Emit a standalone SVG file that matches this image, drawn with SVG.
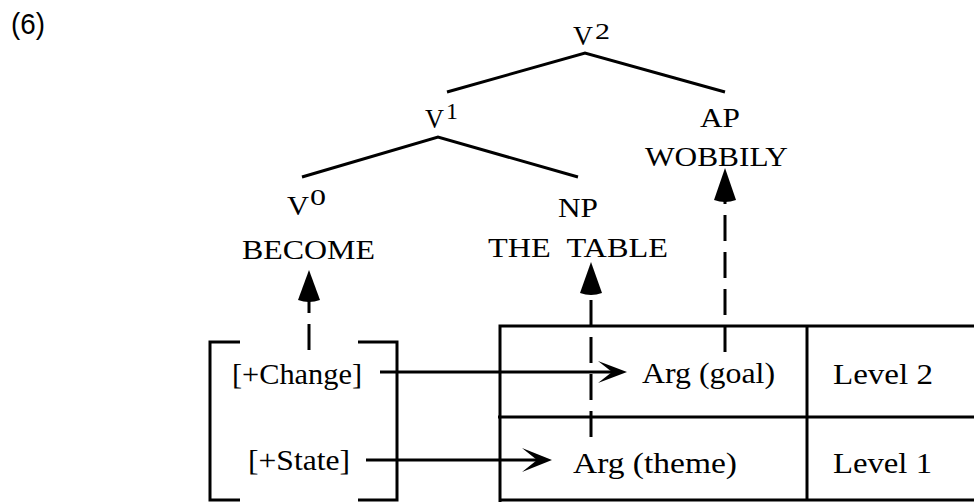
<svg xmlns="http://www.w3.org/2000/svg" width="974" height="502" viewBox="0 0 974 502">
<defs>
<style>
.t{font-family:"Liberation Serif","Times New Roman",serif;font-size:28px;fill:#000}
.b{font-family:"Liberation Serif","Times New Roman",serif;font-size:30px;fill:#000}
.s{font-family:"Liberation Serif","Times New Roman",serif;font-size:24px;fill:#000}
.l{stroke:#000;stroke-width:3;fill:none}
.d{stroke:#000;stroke-width:3;fill:none;stroke-dasharray:26 11}
.h{fill:#000}
</style>
</defs>
<rect width="974" height="502" fill="#fff"/>
<text x="11" y="34" style="font-family:'Liberation Sans',Arial,sans-serif;font-size:30px" textLength="34" lengthAdjust="spacingAndGlyphs">(6)</text>

<g id="tree">
<path class="l" d="M447,92 L585,53 L725,92"/>
<path class="l" d="M302,177 L438,137 L578,177"/>
</g>
<g id="v2"><text class="t" x="573" y="45" textLength="20" lengthAdjust="spacingAndGlyphs">V</text><text class="s" x="595" y="39" textLength="15" lengthAdjust="spacingAndGlyphs">2</text></g>
<g id="v1"><text class="t" x="425" y="128" textLength="19" lengthAdjust="spacingAndGlyphs">V</text><text class="s" x="446" y="119" textLength="12" lengthAdjust="spacingAndGlyphs">1</text></g>
<g id="ap"><text class="t" x="700" y="127" textLength="40" lengthAdjust="spacingAndGlyphs">AP</text><text class="t" x="645" y="166" textLength="143" lengthAdjust="spacingAndGlyphs">WOBBILY</text></g>
<g id="v0"><text class="t" x="287" y="215" textLength="22" lengthAdjust="spacingAndGlyphs">V</text><text class="s" x="310" y="205" textLength="16" lengthAdjust="spacingAndGlyphs">0</text><text class="t" x="242" y="259" textLength="133" lengthAdjust="spacingAndGlyphs">BECOME</text></g>
<g id="np"><text class="t" x="558" y="217" textLength="40" lengthAdjust="spacingAndGlyphs">NP</text><text class="t" x="488" y="257" textLength="180" lengthAdjust="spacingAndGlyphs" xml:space="preserve">THE  TABLE</text></g>

<g id="features">
<path class="l" d="M240,342 H210 V500 H240"/>
<path class="l" d="M358,342 H397 V500 H358"/>
<text class="b" x="232" y="384" textLength="130" lengthAdjust="spacingAndGlyphs">[+Change]</text>
<text class="b" x="248" y="470" textLength="102" lengthAdjust="spacingAndGlyphs">[+State]</text>
</g>

<g id="table">
<path class="l" d="M976,326 H500 V502"/>
<path class="l" d="M498,417 H976"/>
<path class="l" d="M807,326 V500"/>
<path class="l" d="M500,500 H976"/>
<text class="b" x="642" y="383" textLength="133" lengthAdjust="spacingAndGlyphs">Arg (goal)</text>
<text class="b" x="833" y="384" textLength="100" lengthAdjust="spacingAndGlyphs">Level 2</text>
<text class="b" x="573" y="473" textLength="164" lengthAdjust="spacingAndGlyphs">Arg (theme)</text>
<text class="b" x="833" y="473" textLength="99" lengthAdjust="spacingAndGlyphs">Level 1</text>
</g>

<g id="connectors">
<path class="d" d="M309,350 V300"/>
<path class="h" d="M309,270 L320,300 Q309,304 298,300 Z"/>
<path class="d" d="M591,437 V298"/>
<path class="h" d="M591,262 L602,293 Q591,297 580,293 Z"/>
<path class="d" d="M725,352 V200"/>
<path class="h" d="M725,168 L736,200 Q725,204 714,200 Z"/>
<path class="l" d="M380,372 H612"/>
<path class="h" d="M627,372 L598,361 L612,372 L598,383 Z"/>
<path class="l" d="M366,460 H538"/>
<path class="h" d="M552,460 L522,448 L537,460 L522,472 Z"/>
</g>
</svg>
